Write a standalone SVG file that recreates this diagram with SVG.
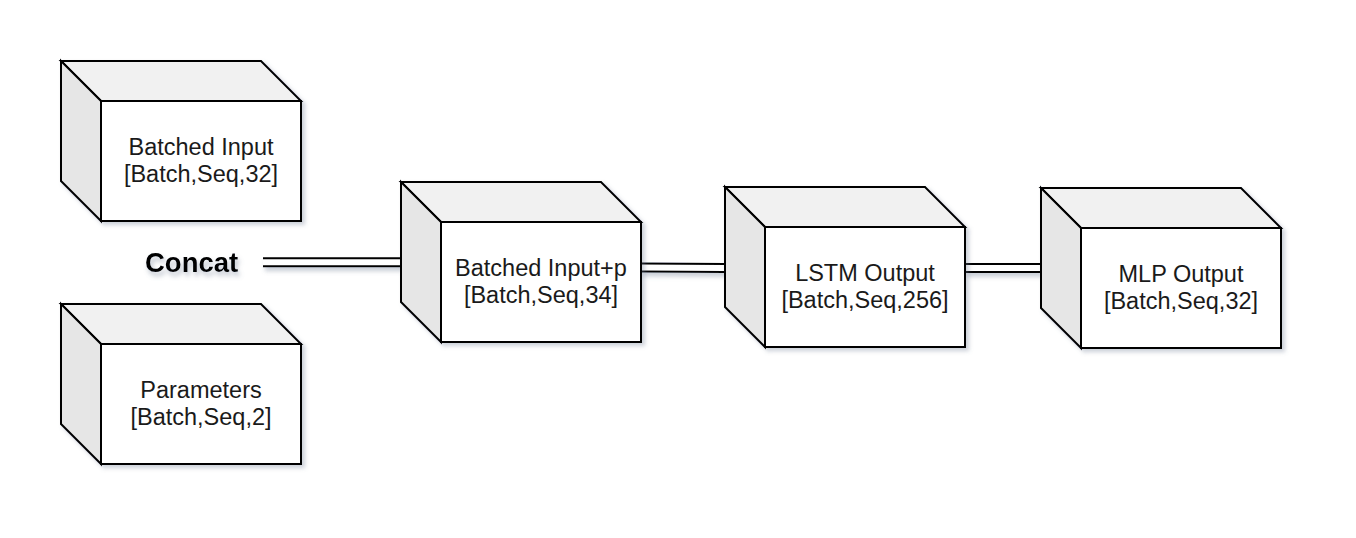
<svg xmlns="http://www.w3.org/2000/svg" width="1356" height="538" viewBox="0 0 1356 538">
<defs>
<filter id="sh" x="-10%" y="-10%" width="130%" height="130%">
<feDropShadow dx="3" dy="3" stdDeviation="2" flood-color="#6a7890" flood-opacity="0.35"/>
</filter>
<filter id="lsh" filterUnits="userSpaceOnUse" x="0" y="0" width="1356" height="538">
<feDropShadow dx="2" dy="4" stdDeviation="2" flood-color="#6a7890" flood-opacity="0.35"/>
</filter>
<filter id="tsh" x="-20%" y="-30%" width="140%" height="180%">
<feDropShadow dx="2" dy="4" stdDeviation="2.5" flood-color="#6a7890" flood-opacity="0.45"/>
</filter>
</defs>
<style>
.front{fill:#ffffff;stroke:#000;stroke-width:2}
.top{fill:#f1f1f1;stroke:#000;stroke-width:2;stroke-linejoin:miter}
.side{fill:#e6e6e6;stroke:#000;stroke-width:2}
.lbl{font-family:"Liberation Sans",Arial,sans-serif;font-size:23.5px;fill:#1a1a1a;text-anchor:middle}
.outer{fill:none;stroke:#000;stroke-width:10}
.inner{fill:none;stroke:#fff;stroke-width:6}
</style>
<rect width="1356" height="538" fill="#ffffff"/>
<g id="connectors" filter="url(#lsh)">
<path class="outer" d="M263,262.3 H401"/>
<path class="inner" d="M263,262.3 H401"/>
<path class="outer" d="M641,267.5 L725,268"/>
<path class="inner" d="M641,267.5 L725,268"/>
<path class="outer" d="M965,268 H1041"/>
<path class="inner" d="M965,268 H1041"/>
</g>
<g id="concat">
<text x="145" y="271.5" filter="url(#tsh)" style="font-family:'Liberation Sans',Arial,sans-serif;font-size:27.5px;font-weight:bold;fill:#000">Concat</text>
</g>
<g id="batched-input">
<g filter="url(#sh)">
<path class="top" d="M61,61 H261 L301,101 H101 Z"/>
<path class="side" d="M61,61 L101,101 V221 L61,181 Z"/>
<rect class="front" x="101" y="101" width="200" height="120"/>
</g>
<text class="lbl" x="201" y="155">Batched Input</text>
<text class="lbl" x="201" y="182">[Batch,Seq,32]</text>
</g>
<g id="parameters">
<g filter="url(#sh)">
<path class="top" d="M61,304 H261 L301,344 H101 Z"/>
<path class="side" d="M61,304 L101,344 V464 L61,424 Z"/>
<rect class="front" x="101" y="344" width="200" height="120"/>
</g>
<text class="lbl" x="201" y="398">Parameters</text>
<text class="lbl" x="201" y="425">[Batch,Seq,2]</text>
</g>
<g id="batched-input-p">
<g filter="url(#sh)">
<path class="top" d="M401,182 H601 L641,222 H441 Z"/>
<path class="side" d="M401,182 L441,222 V342 L401,302 Z"/>
<rect class="front" x="441" y="222" width="200" height="120"/>
</g>
<text class="lbl" x="541" y="276">Batched Input+p</text>
<text class="lbl" x="541" y="303">[Batch,Seq,34]</text>
</g>
<g id="lstm-output">
<g filter="url(#sh)">
<path class="top" d="M725,187 H925 L965,227 H765 Z"/>
<path class="side" d="M725,187 L765,227 V347 L725,307 Z"/>
<rect class="front" x="765" y="227" width="200" height="120"/>
</g>
<text class="lbl" x="865" y="281">LSTM Output</text>
<text class="lbl" x="865" y="308">[Batch,Seq,256]</text>
</g>
<g id="mlp-output">
<g filter="url(#sh)">
<path class="top" d="M1041,188 H1241 L1281,228 H1081 Z"/>
<path class="side" d="M1041,188 L1081,228 V348 L1041,308 Z"/>
<rect class="front" x="1081" y="228" width="200" height="120"/>
</g>
<text class="lbl" x="1181" y="282">MLP Output</text>
<text class="lbl" x="1181" y="309">[Batch,Seq,32]</text>
</g>
</svg>
